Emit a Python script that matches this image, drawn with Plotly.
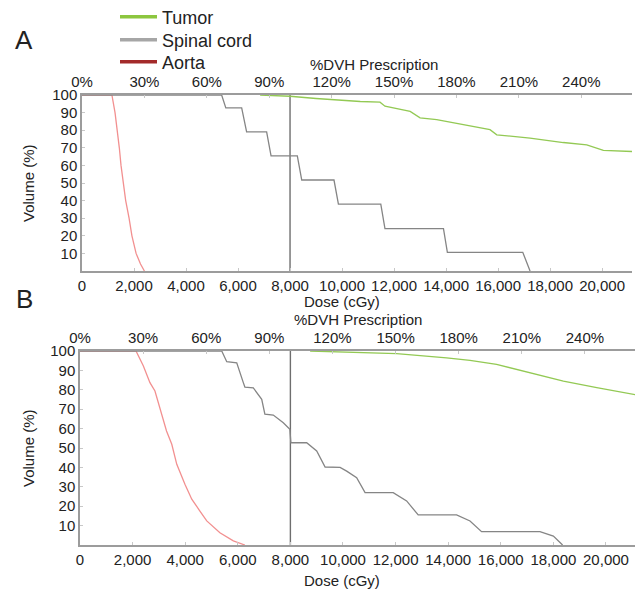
import plotly.graph_objects as go

W, H = 643, 592
PAGE_OFFSET = 8  # browser body margin in which the figure is placed

# ---------------- data ----------------
PRESCRIPTION_DOSE = 8000  # cGy = 100 %
pct_ticks = [0, 30, 60, 90, 120, 150, 180, 210, 240]
dose_ticks = [0, 2000, 4000, 6000, 8000, 10000, 12000, 14000, 16000, 18000, 20000]
dose_tick_text = ["0", "2,000", "4,000", "6,000", "8,000", "10,000", "12,000",
                  "14,000", "16,000", "18,000", "20,000"]
vol_ticks = [10, 20, 30, 40, 50, 60, 70, 80, 90, 100]

# Panel A
a_aorta_dose = [0, 1150, 1270, 1360, 1435, 1500, 1590, 1680, 1810, 1920, 2080, 2250, 2400]
a_aorta_vol = [100, 100, 90, 80, 70, 60, 50, 40, 30, 20, 10, 4, 0]

a_cord_dose = [0, 5370, 5530, 6140, 6330, 7100, 7270, 8280, 8450, 9690, 9860,
               11490, 11650, 13900, 14050, 16950, 17230]
a_cord_vol = [100, 100, 92.7, 92.7, 79, 79, 65.4, 65.4, 51.7, 51.7, 38,
              38, 24.1, 24.1, 10.6, 10.6, 0]

a_tumor_dose = [6850, 8000, 9000, 9540, 10700, 11460, 11650, 12620, 13000, 13640,
                14670, 15690, 15950, 17230, 18510, 19410, 20050, 21150]
a_tumor_vol = [100, 99.3, 98, 97.4, 96.3, 95.9, 93.6, 90.7, 87, 86,
               83.1, 80.3, 77.4, 75.5, 73, 71.7, 68.5, 67.9]

# Panel B
b_aorta_dose = [0, 2130, 2410, 2660, 2850, 3040, 3290, 3490, 3680, 3990, 4250,
                4560, 4820, 5320, 5830, 6270]
b_aorta_vol = [100, 100, 92.3, 83.7, 79.4, 70, 58.8, 51.9, 41.6, 31.3, 23.6,
               17.5, 12.4, 6.3, 2.1, 0]

b_cord_dose = [0, 5390, 5580, 5960, 6210, 6270, 6590, 6910, 7030, 7350, 7730, 7980,
               8020, 8620, 9000, 9320, 9890, 10140, 10520, 10840, 11910, 12420,
               12860, 14320, 14830, 15270, 17490, 18000, 18350]
b_cord_vol = [100, 100, 94.5, 93.9, 83.7, 81.4, 81, 75.1, 67.4, 67, 63, 59.6,
              52.7, 52.7, 48.5, 40.2, 40, 38.1, 34.7, 27, 27, 22.7,
              15.5, 15.5, 12.4, 6.9, 6.9, 4.6, 0]

b_tumor_dose = [8750, 9510, 12040, 13940, 14830, 15840, 17110, 18380, 19650, 21180]
b_tumor_vol = [100, 99.6, 98.6, 96.5, 95.2, 93.1, 88.8, 84.5, 81.1, 77.3]

series_names = ["Tumor", "Spinal cord", "Aorta"]
legend_colors = ["#8cc63f", "#a6a6a6", "#a32a2a"]
plot_colors = {"Tumor": "#93c954", "Spinal cord": "#858585", "Aorta": "#f29090"}

FONT = "Liberation Sans, Arial, sans-serif"
AX_COL = "#9c9c9c"

fig = go.Figure()

panels = [
    dict(x="x", y="y", xt="x2", data={"Tumor": (a_tumor_dose, a_tumor_vol),
                                       "Spinal cord": (a_cord_dose, a_cord_vol),
                                       "Aorta": (a_aorta_dose, a_aorta_vol)}),
    dict(x="x3", y="y2", xt="x4", data={"Tumor": (b_tumor_dose, b_tumor_vol),
                                         "Spinal cord": (b_cord_dose, b_cord_vol),
                                         "Aorta": (b_aorta_dose, b_aorta_vol)}),
]

for p in panels:
    # invisible trace so that the top (%DVH) axis is drawn
    fig.add_trace(go.Scatter(x=[None], y=[None], mode="lines", xaxis=p["xt"], yaxis=p["y"],
                             showlegend=False, hoverinfo="skip"))
    # prescription line
    fig.add_trace(go.Scatter(x=[PRESCRIPTION_DOSE, PRESCRIPTION_DOSE], y=[0, 100],
                             mode="lines", line=dict(color="#6e6e6e", width=1.4),
                             xaxis=p["x"], yaxis=p["y"], showlegend=False, hoverinfo="skip"))
    for name in ["Aorta", "Spinal cord", "Tumor"]:
        xs, ys = p["data"][name]
        fig.add_trace(go.Scatter(x=xs, y=ys, mode="lines",
                                 line=dict(color=plot_colors[name], width=1.3),
                                 xaxis=p["x"], yaxis=p["y"], showlegend=False))

# legend entries (one legend box per row for exact row spacing)
legend_keys = ["legend", "legend2", "legend3"]
for name, col, lg in zip(series_names, legend_colors, legend_keys):
    fig.add_trace(go.Scatter(x=[None], y=[None], mode="lines", name=name, legend=lg,
                             line=dict(color=col, width=3.5), xaxis="x", yaxis="y"))


def px_x(v):
    return (v - PAGE_OFFSET) / W


def px_y(v):
    return 1 - (v - PAGE_OFFSET) / H


axis_common = dict(showgrid=False, zeroline=False, showline=True, linecolor=AX_COL,
                   linewidth=1.5, ticks="inside", ticklen=3, tickcolor="#c8c8c8",
                   automargin=False,
                   tickfont=dict(size=15, family=FONT, color="#222"))

xa_dom = [px_x(82), px_x(632)]
xb_dom = [px_x(80), px_x(637)]
ya_dom = [px_y(271), px_y(95)]
yb_dom = [px_y(545), px_y(351)]
xa_rng = [0, 21150]
xb_rng = [0, 21180]

top_vals = [t * PRESCRIPTION_DOSE / 100 for t in pct_ticks]
top_text = [f"{t}%" for t in pct_ticks]

legend_rows_y = [17, 40, 62]
legend_common = dict(xanchor="left", yanchor="middle", bgcolor="rgba(0,0,0,0)",
                     borderwidth=0, itemwidth=37,
                     font=dict(size=18, family=FONT, color="#222"))

fig.update_layout(
    width=W, height=H, margin=dict(l=0, r=0, t=0, b=0, autoexpand=False),
    paper_bgcolor="white", plot_bgcolor="white",
    font=dict(family=FONT, size=15, color="#222"),
    xaxis=dict(domain=xa_dom, range=xa_rng, anchor="y", tickvals=dose_ticks,
               ticktext=dose_tick_text, **axis_common),
    xaxis2=dict(domain=xa_dom, range=xa_rng, anchor="y", overlaying="x", side="top",
                tickvals=top_vals, ticktext=top_text, **axis_common),
    yaxis=dict(domain=ya_dom, range=[0, 100], anchor="x", tickvals=vol_ticks, **axis_common),
    xaxis3=dict(domain=xb_dom, range=xb_rng, anchor="y2", tickvals=dose_ticks,
                ticktext=dose_tick_text, **axis_common),
    xaxis4=dict(domain=xb_dom, range=xb_rng, anchor="y2", overlaying="x3", side="top",
                tickvals=top_vals, ticktext=top_text, **axis_common),
    yaxis2=dict(domain=yb_dom, range=[0, 100], anchor="x3", tickvals=vol_ticks, **axis_common),
    legend=dict(x=px_x(115), y=px_y(legend_rows_y[0]), **legend_common),
    legend2=dict(x=px_x(115), y=px_y(legend_rows_y[1]), **legend_common),
    legend3=dict(x=px_x(115), y=px_y(legend_rows_y[2]), **legend_common),
    showlegend=True,
)


def ann(text, x, y, size=15, angle=0):
    fig.add_annotation(text=text, x=px_x(x), y=px_y(y), xref="paper", yref="paper",
                       showarrow=False, textangle=angle, xanchor="center", yanchor="middle",
                       font=dict(size=size, family=FONT, color="#222"))


ann("A", 24, 40, size=26)
ann("B", 24, 299, size=26)
ann("%DVH Prescription", 374, 64)
ann("%DVH Prescription", 358, 320)
ann("Dose (cGy)", 342, 301)
ann("Dose (cGy)", 342, 580)
ann("Volume (%)", 28, 183, angle=-90)
ann("Volume (%)", 28, 448, angle=-90)

fig.write_html("out.html")
